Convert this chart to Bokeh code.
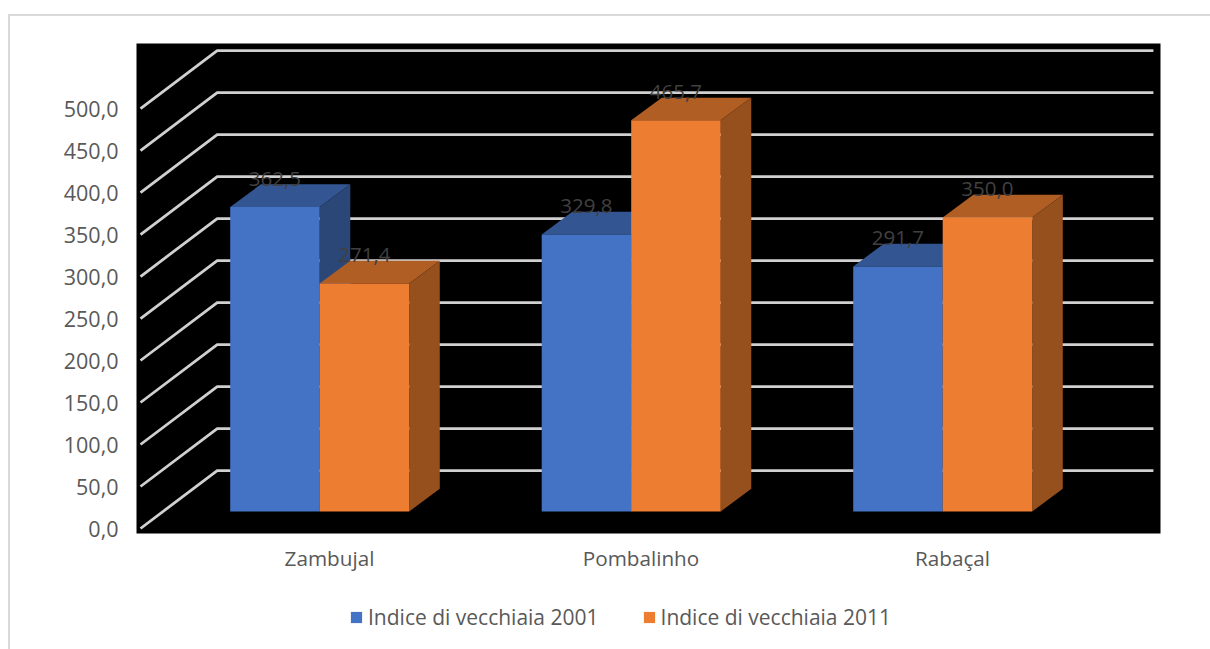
from bokeh.plotting import figure
from bokeh.layouts import column
from bokeh.models import FixedTicker, Legend, LegendItem
from bokeh.core.properties import value
from bokeh.embed import file_html
from bokeh.resources import INLINE

categories = ["Zambujal", "Pombalinho", "Rabaçal"]
series_2001 = [362.5, 329.8, 291.7]
series_2011 = [271.4, 465.7, 350.0]
labels_2001 = ["362,5", "329,8", "291,7"]
labels_2011 = ["271,4", "465,7", "350,0"]
y_ticks = [0, 50, 100, 150, 200, 250, 300, 350, 400, 450, 500]
y_tick_labels = ["0,0", "50,0", "100,0", "150,0", "200,0", "250,0", "300,0", "350,0", "400,0", "450,0", "500,0"]
series_names = ["Indice di vecchiaia 2001", "Indice di vecchiaia 2011"]

FONT = "Open Sans"
TEXT = "#595959"
BLUE = "#4472C4"
ORANGE = "#ED7D31"

# oblique projection constants (category units / value units)
BAR_W = 0.2873
BAR_SHIFT = -0.0315
BASE = 20.24
DEPTH_X = 0.0982
DEPTH_Y = 27.0
WALL_X0 = -0.6067
WALL_DX = 0.2462
WALL_DY = 69.0
WALL_X1 = 2.645

p = figure(width=1202, height=589, frame_width=1024, frame_height=490,
           x_range=(-0.6196, 2.6677), y_range=(-5.95, 577.4),
           output_backend="svg", toolbar_location=None,
           min_border_left=128, min_border_right=50, min_border_top=35, min_border_bottom=64,
           background_fill_color="#000000", border_fill_color=None)
p.outline_line_color = None
p.grid.visible = False

p.xaxis.ticker = FixedTicker(ticks=list(range(len(categories))))
p.xaxis.major_label_overrides = {i: c for i, c in enumerate(categories)}
p.yaxis.ticker = FixedTicker(ticks=y_ticks)
p.yaxis.major_label_overrides = dict(zip(y_ticks, y_tick_labels))
for ax in (p.xaxis[0], p.yaxis[0]):
    ax.axis_line_color = None
    ax.major_tick_line_color = None
    ax.minor_tick_line_color = None
    ax.major_label_text_font = FONT
    ax.major_label_text_color = TEXT
p.xaxis.major_label_text_font_size = "20.7px"
p.yaxis.major_label_text_font_size = "21.5px"
p.xaxis.major_label_standoff = 4
p.yaxis.major_label_standoff = 12

# wall and floor lines
xs = [[WALL_X0, WALL_X0 + WALL_DX, WALL_X1] for _ in y_ticks]
ys = [[v, v + WALL_DY, v + WALL_DY] for v in y_ticks]
p.multi_line(xs, ys, line_color="#d0d0d0", line_width=2.8)


def bar(left, val, front, top, side):
    l, r = left, left + BAR_W
    b, t = BASE, BASE + val
    p.patch([l, r, r + DEPTH_X, l + DEPTH_X], [t, t, t + DEPTH_Y, t + DEPTH_Y], fill_color=top, line_color=None)
    p.patch([r, r + DEPTH_X, r + DEPTH_X, r], [b, b + DEPTH_Y, t + DEPTH_Y, t], fill_color=side, line_color=None)
    p.quad(left=[l], right=[r], bottom=[b], top=[t], fill_color=front, line_color=None)


for i in range(len(categories)):
    c = i + BAR_SHIFT
    bar(c - BAR_W, series_2001[i], BLUE, "#335693", "#2B4778")
    bar(c, series_2011[i], ORANGE, "#B15E25", "#95501D")

for i in range(len(categories)):
    c = i + BAR_SHIFT
    for sign, vals, labs in ((-0.5, series_2001, labels_2001), (0.5, series_2011, labels_2011)):
        p.text(x=[c + sign * BAR_W], y=[BASE + vals[i] + 33.5], text=[labs[i]],
               text_font=value(FONT), text_font_size="20.5px", text_color="#404040",
               text_align="center", text_baseline="middle")

# legend lives in its own small transparent figure under the chart;
# its two swatch renderers sit outside that figure's visible range
lg = figure(width=1202, height=52, x_range=(0, 1), y_range=(0, 1),
            output_backend="svg", toolbar_location=None,
            min_border=0, border_fill_color=None, background_fill_color=None, outline_line_color=None)
lg.axis.visible = False
lg.grid.visible = False
r_blue = lg.quad(left=[2], right=[3], top=[3], bottom=[2], fill_color=BLUE, line_color=None)
r_orange = lg.quad(left=[2], right=[3], top=[3], bottom=[2], fill_color=ORANGE, line_color=None)
legend = Legend(items=[LegendItem(label=series_names[0], renderers=[r_blue]),
                       LegendItem(label=series_names[1], renderers=[r_orange])],
                orientation="horizontal", location=(213, 18),
                glyph_width=14, glyph_height=14, label_standoff=5, spacing=43,
                padding=0, margin=0, border_line_color=None, background_fill_alpha=0,
                label_text_font=FONT, label_text_font_size="21px", label_text_color=TEXT)
lg.add_layout(legend, "center")

page = column(p, lg, width=1202, height=641, spacing=0)
page.styles = {"position": "absolute", "left": "8px", "top": "8px",
               "background-image": "linear-gradient(#d9d9d9,#d9d9d9),linear-gradient(#d9d9d9,#d9d9d9)",
               "background-size": "2px 100%,100% 2px",
               "background-position": "0px 6px,0px 6px",
               "background-repeat": "no-repeat"}

open("out.html", "w").write(file_html(page, INLINE))
